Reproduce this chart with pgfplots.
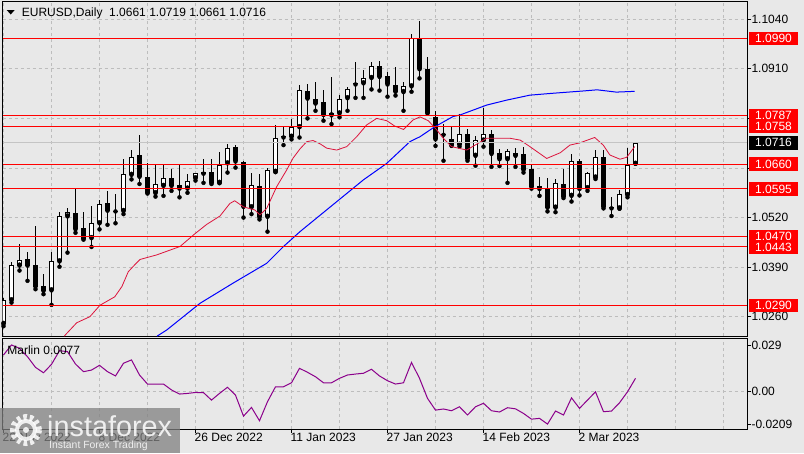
\documentclass[border=0pt]{standalone}
\usepackage{fontspec}
\setmainfont{Liberation Sans}
\usepackage{pgfplots}
\pgfplotsset{compat=1.18}
\usepackage{pgfplotstable}

\definecolor{bg}{HTML}{E8E8E8}
\definecolor{gridc}{HTML}{BDBDBD}
\definecolor{lvl}{HTML}{FF0000}
\definecolor{maRed}{HTML}{DC143C}
\definecolor{maBlue}{HTML}{0000FF}
\definecolor{marlinc}{HTML}{8B008B}

% daily candles, bar index 0 = 22 Nov 2022
\pgfplotstableread{
i  o      h      l      c
0  1.0241 1.0309 1.0235 1.0304
1  1.0303 1.0404 1.0297 1.0395
2  1.0394 1.0451 1.0381 1.0408
6  1.0329 1.0430 1.0291 1.0405
7  1.0405 1.0534 1.0391 1.0523
8  1.0523 1.0544 1.0428 1.0534
11 1.0466 1.0550 1.0443 1.0505
12 1.0505 1.0566 1.0489 1.0555
15 1.0537 1.0673 1.0529 1.0633
16 1.0632 1.0697 1.0620 1.0680
19 1.0584 1.0660 1.0575 1.0607
20 1.0603 1.0660 1.0577 1.0623
23 1.0596 1.0633 1.0585 1.0615
24 1.0623 1.0637 1.0617 1.0636
27 1.0611 1.0692 1.0610 1.0658
28 1.0662 1.0713 1.0638 1.0702
31 1.0547 1.0636 1.0529 1.0605
33 1.0522 1.0649 1.0483 1.0645
34 1.0640 1.0763 1.0639 1.0728
36 1.0732 1.0778 1.0725 1.0757
37 1.0757 1.0868 1.0730 1.0855
41 1.0788 1.0888 1.0765 1.0793
42 1.0793 1.0841 1.0783 1.0830
43 1.0833 1.0862 1.0800 1.0856
45 1.0872 1.0907 1.0834 1.0885
46 1.0886 1.0927 1.0856 1.0918
50 1.0849 1.0876 1.0800 1.0864
51 1.0864 1.1001 1.0850 1.0990
57 1.0711 1.0791 1.0706 1.0738
59 1.0682 1.0734 1.0656 1.0723
60 1.0722 1.0808 1.0706 1.0738
63 1.0673 1.0701 1.0611 1.0694
69 1.0546 1.0621 1.0534 1.0610
71 1.0577 1.0687 1.0562 1.0668
73 1.0597 1.0639 1.0590 1.0636
74 1.0625 1.0697 1.0621 1.0680
77 1.0544 1.0592 1.0543 1.0581
78 1.0579 1.0702 1.0573 1.0658
79 1.0661 1.0719 1.0661 1.0716
}\bull

\pgfplotstableread{
i  o      h      l      c
3  1.0410 1.0430 1.0354 1.0394
4  1.0395 1.0498 1.0332 1.0339
5  1.0340 1.0371 1.0319 1.0328
9  1.0531 1.0594 1.0480 1.0489
10 1.0492 1.0534 1.0462 1.0465
13 1.0557 1.0590 1.0501 1.0538
14 1.0538 1.0582 1.0505 1.0536
17 1.0684 1.0736 1.0608 1.0627
18 1.0626 1.0662 1.0583 1.0585
21 1.0624 1.0648 1.0590 1.0603
22 1.0605 1.0658 1.0573 1.0596
25 1.0639 1.0673 1.0611 1.0635
26 1.0640 1.0674 1.0608 1.0611
29 1.0704 1.0710 1.0651 1.0667
30 1.0665 1.0668 1.0520 1.0548
32 1.0603 1.0634 1.0515 1.0521
35 1.0734 1.0758 1.0710 1.0730
38 1.0853 1.0869 1.0780 1.0832
39 1.0831 1.0876 1.0800 1.0819
40 1.0823 1.0855 1.0774 1.0789
44 1.0872 1.0927 1.0834 1.0869
47 1.0917 1.0931 1.0853 1.0889
48 1.0890 1.0903 1.0837 1.0869
49 1.0867 1.0914 1.0840 1.0850
52 1.0990 1.1036 1.0885 1.0909
53 1.0909 1.0940 1.0793 1.0795
54 1.0785 1.0799 1.0708 1.0725
55 1.0738 1.0765 1.0669 1.0737
56 1.0725 1.0760 1.0708 1.0710
58 1.0739 1.0751 1.0669 1.0674
61 1.0738 1.0749 1.0653 1.0687
62 1.0689 1.0699 1.0655 1.0673
64 1.0689 1.0703 1.0653 1.0682
65 1.0687 1.0706 1.0638 1.0645
66 1.0647 1.0660 1.0596 1.0601
67 1.0602 1.0627 1.0577 1.0595
68 1.0597 1.0623 1.0536 1.0546
70 1.0608 1.0648 1.0571 1.0575
72 1.0669 1.0673 1.0578 1.0595
75 1.0678 1.0697 1.0544 1.0548
76 1.0548 1.0575 1.0524 1.0544
}\bear

% fast moving average (red)
\pgfplotstableread{
i     p
7.6   1.0209
7.9   1.0216
9.15  1.0244
10.8  1.0260
12.06 1.0290
13.9  1.0312
14.8  1.0339
15.6  1.0378
16.4  1.0396
17.06 1.0410
19.15 1.0422
22.06 1.0444
23.9  1.0477
25.4  1.0502
27.06 1.0524
28.3  1.0557
28.9  1.0564
30.0  1.0548
31.4  1.0540
32.06 1.0527
32.9  1.0544
34.15 1.0601
35.4  1.0645
36.2  1.0676
37.06 1.0700
37.9  1.0719
38.7  1.0722
39.6  1.0713
40.4  1.0702
41.65 1.0697
42.9  1.0706
44.15 1.0732
45.4  1.0763
46.65 1.0780
47.9  1.0774
48.9  1.0760
50.0  1.0751
51.2  1.0776
52.06 1.0784
53.1  1.0774
54.15 1.0750
54.97 1.0728
56.0  1.0706
57.9  1.0697
60.4  1.0728
63.3  1.0728
64.6  1.0723
65.8  1.0706
67.9  1.0675
69.6  1.0690
70.8  1.0710
72.06 1.0716
73.9  1.0730
74.97 1.0710
75.8  1.0684
77.06 1.0673
77.9  1.0678
78.9  1.0706
}\mafast

% slow moving average (blue)
\pgfplotstableread{
i     p
19.2  1.0209
20.4  1.0225
24.56 1.0295
28.7  1.0348
32.9  1.0400
35.0  1.0444
37.06 1.0483
45.0  1.0619
47.9  1.0662
50.8  1.0719
52.06 1.0732
53.9  1.0758
56.2  1.0785
57.06 1.0789
60.4  1.0815
62.9  1.0828
65.8  1.0841
68.7  1.0846
72.5  1.0852
74.2  1.0855
76.6  1.0849
78.9  1.0851
}\maslow

% Marlin oscillator
\pgfplotstableread{
i  v
0  0.0227
1  0.0290
2  0.0269
3  0.0216
4  0.0149
5  0.0115
6  0.0168
7  0.0254
8  0.0248
9  0.0170
10 0.0122
11 0.0132
12 0.0162
13 0.0122
14 0.0095
15 0.0175
16 0.0196
17 0.0101
18 0.0044
19 0.0044
20 0.0044
21 0.0007
22 -0.0019
23 -0.0015
24 -0.0009
25 -0.0010
26 -0.0057
27 -0.0015
28 0.0024
29 -0.0026
30 -0.0158
31 -0.0103
32 -0.0187
33 -0.0067
34 0.0027
35 0.0027
36 0.0052
37 0.0143
38 0.0118
39 0.0090
40 0.0052
41 0.0052
42 0.0080
43 0.0101
44 0.0107
45 0.0112
46 0.0137
47 0.0095
48 0.0065
49 0.0044
50 0.0052
51 0.0180
52 0.0080
53 -0.0046
54 -0.0120
55 -0.0113
56 -0.0124
57 -0.0099
58 -0.0151
59 -0.0099
60 -0.0077
61 -0.0124
62 -0.0132
63 -0.0105
64 -0.0112
65 -0.0141
66 -0.0177
67 -0.0172
68 -0.0208
69 -0.0126
70 -0.0151
71 -0.0043
72 -0.0109
73 -0.0057
74 -0.0005
75 -0.0130
76 -0.0126
77 -0.0074
78 -0.0005
79 0.0080
}\marlin

\pgfplotsset{
  candle/.style 2 args={only marks, mark=none, forget plot,
    error bars/.cd, y dir=plus, y explicit, error mark=none,
    error bar style={draw=#1, line width=#2}},
}
\tikzset{
  lvlbox/.style={fill=#1, text=white, minimum width=48.7pt, minimum height=13.4pt,
    inner sep=0pt, anchor=west, xshift=1.7pt},
}

\begin{document}
\begin{tikzpicture}[font=\fontsize{12}{14}\selectfont]
\fill[bg] (0pt,0pt) rectangle (804pt,-453pt);

\begin{axis}[
  at={(2.7pt,-1.7pt)}, anchor=north west,
  scale only axis, width=744.6pt, height=334.3pt,
  xmin=-0.1, xmax=92.975, ymin=1.02093, ymax=1.10861,
  axis background/.style={fill=bg},
  axis line style={black, line width=1pt},
  xtick={0,6,...,90}, xticklabels={}, xtick style={draw=none},
  ytick={1.026,1.039,1.052,1.065,1.078,1.091,1.104},
  yticklabels={1.0260,1.0390,1.0520,,,1.0910,1.1040},
  scaled y ticks=false,
  ytick pos=right, yticklabel pos=right,
  tick align=outside, major tick length=4pt,
  ytick style={black, line width=0.8pt},
  yticklabel style={anchor=west, inner sep=0pt},
  grid=major, grid style={gridc, dash pattern=on 3pt off 3pt, line width=0.8pt},
  clip mode=individual,
]
% wicks
\addplot[candle={black}{1pt}]
  table[x=i, y=l, y error expr={\thisrow{h}-\thisrow{l}}] {\bull};
\addplot[candle={black}{1pt}]
  table[x=i, y=l, y error expr={\thisrow{h}-\thisrow{l}}] {\bear};
% bodies
\addplot[candle={black}{5pt}]
  table[x=i, y=c, y error expr={\thisrow{o}-\thisrow{c}}] {\bear};
\addplot[candle={black}{5pt}]
  table[x=i, y=o, y error expr={\thisrow{c}-\thisrow{o}}] {\bull};
\addplot[candle={white}{3pt}]
  table[x=i, y expr={\thisrow{o}+0.00026}, y error expr={max(\thisrow{c}-\thisrow{o}-0.00052,0)}] {\bull};

% moving averages
\addplot[maRed, line width=0.8pt, mark=none] table[x=i, y=p] {\mafast};
\addplot[maBlue, line width=1pt, mark=none] table[x=i, y=p] {\maslow};

% current price and levels
\addplot[gridc!90!white, line width=1pt, forget plot] coordinates {(-0.1,1.0716) (92.975,1.0716)};
\addplot[lvl, line width=1pt, forget plot] coordinates {(-0.1,1.0990) (92.975,1.0990)};
\addplot[lvl, line width=1pt, forget plot] coordinates {(-0.1,1.0787) (92.975,1.0787)};
\addplot[lvl, line width=1pt, forget plot] coordinates {(-0.1,1.0758) (92.975,1.0758)};
\addplot[lvl, line width=1pt, forget plot] coordinates {(-0.1,1.0660) (92.975,1.0660)};
\addplot[lvl, line width=1pt, forget plot] coordinates {(-0.1,1.0595) (92.975,1.0595)};
\addplot[lvl, line width=1pt, forget plot] coordinates {(-0.1,1.0470) (92.975,1.0470)};
\addplot[lvl, line width=1pt, forget plot] coordinates {(-0.1,1.0443) (92.975,1.0443)};
\addplot[lvl, line width=1pt, forget plot] coordinates {(-0.1,1.0290) (92.975,1.0290)};

\node[lvlbox=lvl] at (axis cs:92.975,1.0990) {1.0990};
\node[lvlbox=lvl] at (axis cs:92.975,1.0787) {1.0787};
\node[lvlbox=lvl] at (axis cs:92.975,1.0758) {1.0758};
\node[lvlbox=black] at (axis cs:92.975,1.0716) {1.0716};
\node[lvlbox=lvl] at (axis cs:92.975,1.0660) {1.0660};
\node[lvlbox=lvl] at (axis cs:92.975,1.0595) {1.0595};
\node[lvlbox=lvl] at (axis cs:92.975,1.0470) {1.0470};
\node[lvlbox=lvl] at (axis cs:92.975,1.0443) {1.0443};
\node[lvlbox=lvl] at (axis cs:92.975,1.0290) {1.0290};
\end{axis}

\begin{axis}[
  at={(2.7pt,-338.3pt)}, anchor=north west,
  scale only axis, width=744.6pt, height=90.7pt,
  xmin=-0.1, xmax=92.975, ymin=-0.0239, ymax=0.0332,
  axis background/.style={fill=bg},
  axis line style={black, line width=1pt},
  xtick={0,12,...,72},
  xticklabels={22 Nov 2022,8 Dec 2022,26 Dec 2022,11 Jan 2023,27 Jan 2023,14 Feb 2023,2 Mar 2023},
  minor xtick={6,18,30,42,54,66,78,84,90},
  xtick pos=bottom, ytick pos=right, yticklabel pos=right,
  tick align=outside, major tick length=4pt, minor tick length=0pt,
  tick style={black, line width=0.8pt},
  xmajorgrids, xminorgrids,
  xticklabel style={anchor=north west, inner sep=0pt, xshift=-1pt},
  ytick={-0.0209,0.029}, yticklabels={-0.0209,0.029},
  scaled y ticks=false,
  extra y ticks={0}, extra y tick labels={0.00},
  extra y tick style={grid=major},
  yticklabel style={anchor=west, inner sep=0pt},
  grid style={gridc, dash pattern=on 3pt off 3pt, line width=0.8pt},
  minor grid style={gridc, dash pattern=on 3pt off 3pt, line width=0.8pt},
  clip mode=individual,
]
\addplot[marlinc, line width=1pt, mark=none] table[x=i, y=v] {\marlin};
\node[anchor=north west, inner sep=0pt] at (rel axis cs:0,1) [xshift=4.5pt, yshift=-7pt] {Marlin 0.0077};
\end{axis}

% header
\fill[black] (6.7pt,-10pt) -- (14.7pt,-10pt) -- (10.7pt,-14.5pt) -- cycle;
\node[anchor=base west, inner sep=0pt] at (21.7pt,-16.6pt) {EURUSD,Daily\ \ 1.0661 1.0719 1.0661 1.0716};

% watermark
\fill[black!50, opacity=0.75] (0pt,-407.7pt) rectangle (180pt,-453pt);
\begin{scope}[white, opacity=0.85]
\draw[line width=6pt, dash pattern=on 3.5pt off 3pt] (26pt,-430pt) circle (13pt);
\draw[line width=4pt] (26pt,-430pt) circle (9pt);
\fill (26pt,-430pt) circle (3pt);
\node[anchor=base west, inner sep=0pt, font=\fontsize{28.8}{30}\selectfont] at (47pt,-436pt) {instaforex};
\node[anchor=base west, inner sep=0pt, font=\fontsize{10.4}{12}\selectfont] at (49pt,-448pt) {Instant Forex Trading};
\end{scope}

\pgfresetboundingbox
\path (0pt,0pt) rectangle (804pt,-453pt);
\end{tikzpicture}
\end{document}
